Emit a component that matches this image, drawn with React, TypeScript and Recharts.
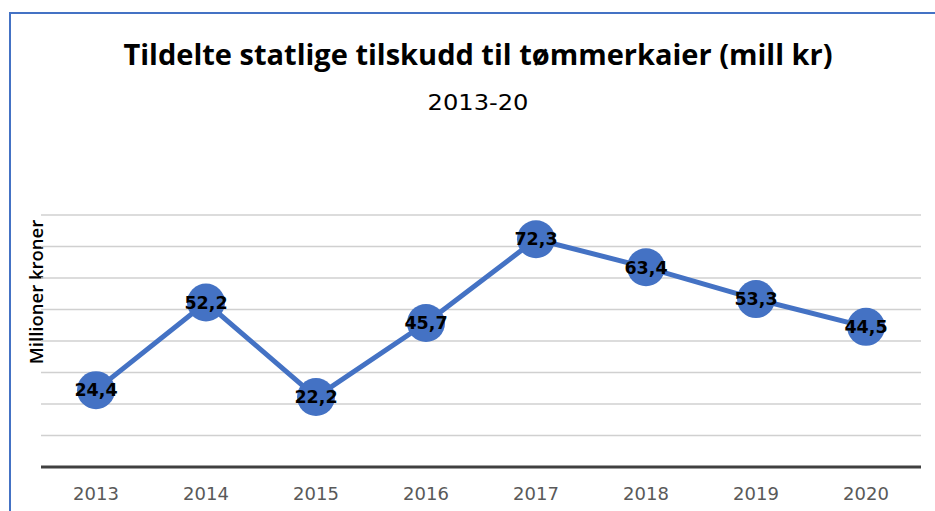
import React from 'react';
import { LineChart, Line, XAxis, YAxis, CartesianGrid, LabelList } from 'recharts';

const YEARS = ['2013', '2014', '2015', '2016', '2017', '2018', '2019', '2020'];
const GRANTS = [24.4, 52.2, 22.2, 45.7, 72.3, 63.4, 53.3, 44.5];
const Y_TICKS = [0, 10, 20, 30, 40, 50, 60, 70, 80];

const data = YEARS.map((year, i) => ({ year, value: GRANTS[i] }));

const FONT = '"Open Sans", sans-serif';
const WIDE = '"DejaVu Sans", sans-serif';
const BLUE = '#4472C4';

export default function App() {
  return (
    <div style={{ position: 'absolute', left: 0, top: 0, width: 935, height: 511, background: '#fff', overflow: 'hidden', fontFamily: FONT }}>
      {/* blue frame, cut off at the right and bottom */}
      <div style={{ position: 'absolute', left: 9, top: 12, width: 940, height: 520, borderLeft: `2px solid ${BLUE}`, borderTop: `2px solid ${BLUE}` }} />

      <div style={{ position: 'absolute', left: 0, width: 956, top: 34, textAlign: 'center', fontSize: 29, fontWeight: 700, color: '#000', lineHeight: '40px' }}>
        Tildelte statlige tilskudd til tømmerkaier (mill kr)
      </div>
      <div style={{ position: 'absolute', left: 0, width: 956, top: 88, textAlign: 'center', fontSize: 21, color: '#000', lineHeight: '30px', fontFamily: WIDE, transform: 'scaleX(1.15)', transformOrigin: '478px 0' }}>
        2013-20
      </div>
      <div style={{ position: 'absolute', left: 35, top: 292, transform: 'translate(-50%, -50%) rotate(-90deg)', fontSize: 18.5, fontWeight: 600, color: '#000', whiteSpace: 'nowrap' }}>
        Millioner kroner
      </div>

      <div style={{ position: 'absolute', left: 0, top: 0 }}>
        <LineChart width={935} height={511} data={data} margin={{ top: 215, right: 14, bottom: 14, left: 41 }}>
          <CartesianGrid horizontal vertical={false} stroke="#d0d0d0" strokeWidth={1.5} />
          <XAxis
            dataKey="year"
            padding={{ left: 55, right: 55 }}
            axisLine={{ stroke: '#404040', strokeWidth: 3 }}
            tickLine={false}
            tickMargin={14}
            height={30}
            tick={{ fill: '#595959', fontSize: 18, fontFamily: WIDE }}
          />
          <YAxis hide domain={[0, 80]} ticks={Y_TICKS} />
          <Line
            type="linear"
            dataKey="value"
            stroke={BLUE}
            strokeWidth={5}
            dot={{ r: 19, fill: BLUE, stroke: BLUE, strokeWidth: 0 }}
            activeDot={false}
            isAnimationActive={false}
          >
            <LabelList
              dataKey="value"
              position="center"
              formatter={(v: number) => String(v).replace('.', ',')}
              style={{ fill: '#000', fontSize: 17.5, fontWeight: 700, fontFamily: WIDE }}
            />
          </Line>
        </LineChart>
      </div>
    </div>
  );
}
